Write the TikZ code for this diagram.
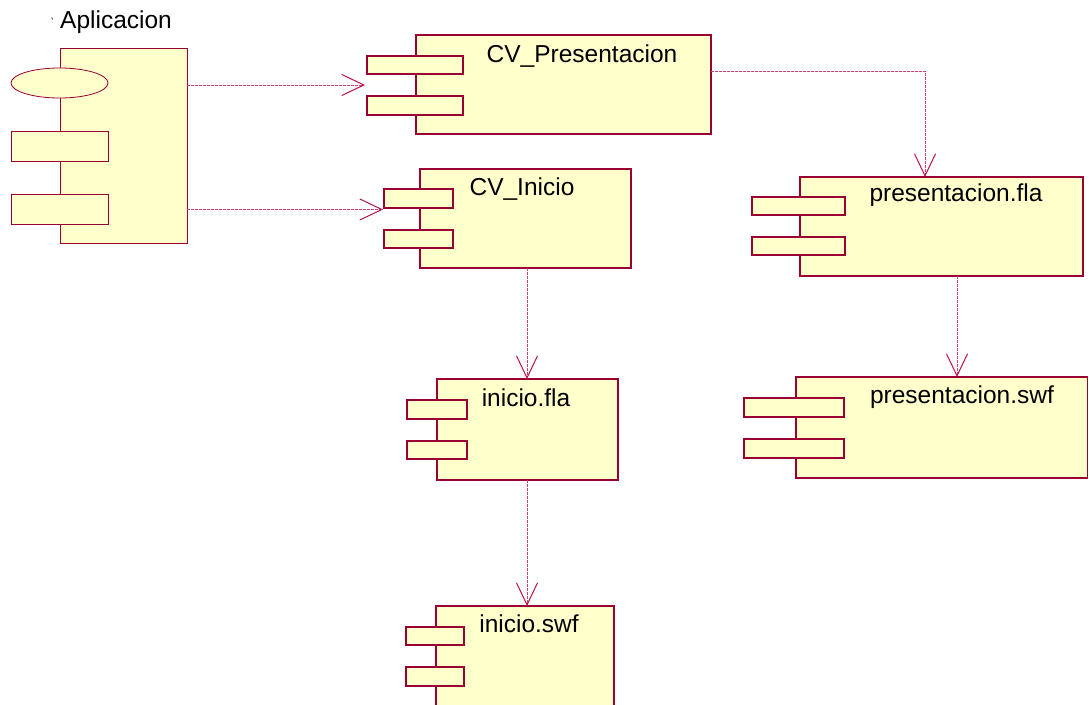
\documentclass[tikz,border=0pt]{standalone}
\usepackage{fontspec}
\newfontfamily\labelfont{Liberation Sans}
\usetikzlibrary{arrows.meta,shapes.geometric}

\definecolor{compedge}{RGB}{153,0,51}
\definecolor{compfill}{RGB}{255,255,204}
\definecolor{deplink}{RGB}{214,60,120}
\definecolor{deptip}{RGB}{185,20,70}

\tikzset{
  box/.style={draw=compedge, fill=compfill, line width=1.8pt, inner sep=0pt,
              outer sep=0pt, anchor=north west},
  thinbox/.style={box, line width=0.9pt},
  lbl/.style={font=\labelfont\fontsize{24.5}{28}\selectfont, text=black,
              inner sep=0pt, anchor=base},
  dep/.style={draw=deplink, line width=0.9pt, dash pattern=on 3pt off 1pt,
              -{Straight Barb[length=22pt, width=21pt, line width=1pt, color=deptip]}},
}

\begin{document}
\begin{tikzpicture}[x=1pt, y=-1pt]
\useasboundingbox (0,0) rectangle (1089,704);
\clip (0,0) rectangle (1089,704);
\fill[white] (0,0) rectangle (1089,704);

% ---- Aplicacion (package) ----
\node[thinbox, minimum width=127, minimum height=195] (apl) at (60,48) {};
\node[draw=compedge, fill=compfill, line width=0.8pt, ellipse, inner sep=0pt,
      minimum width=97, minimum height=30] (apl-e) at (59.5,83) {};
\node[thinbox, minimum width=97, minimum height=30] (apl-t1) at (11,131) {};
\node[thinbox, minimum width=97, minimum height=30] (apl-t2) at (11,194) {};
\node[lbl, anchor=base west] (apl-l) at (60,28) {Aplicacion};
\draw[compedge, line width=0.8pt] (51.6,17.6) -- (52.6,19.4);

% ---- CV_Presentacion ----
\node[box, minimum width=295, minimum height=99] (cvp) at (416,35) {};
\node[box, minimum width=96, minimum height=18] (cvp-t1) at (367,56) {};
\node[box, minimum width=96, minimum height=19] (cvp-t2) at (367,96) {};
\node[lbl] (cvp-l) at (582,62) {CV\_Presentacion};

% ---- CV_Inicio ----
\node[box, minimum width=211, minimum height=99] (cvi) at (420,169) {};
\node[box, minimum width=69, minimum height=19] (cvi-t1) at (384,189) {};
\node[box, minimum width=69, minimum height=18] (cvi-t2) at (384,230) {};
\node[lbl] (cvi-l) at (522,195) {CV\_Inicio};

% ---- inicio.fla ----
\node[box, minimum width=181, minimum height=101] (ifla) at (437,379) {};
\node[box, minimum width=60, minimum height=19] (ifla-t1) at (407,400) {};
\node[box, minimum width=60, minimum height=18] (ifla-t2) at (407,441) {};
\node[lbl] (ifla-l) at (526,406) {inicio.fla};

% ---- inicio.swf ----
\node[box, minimum width=178, minimum height=120] (iswf) at (436,606) {};
\node[box, minimum width=58, minimum height=18] (iswf-t1) at (406,627) {};
\node[box, minimum width=58, minimum height=19] (iswf-t2) at (406,667) {};
\node[lbl] (iswf-l) at (529,632) {inicio.swf};

% ---- presentacion.fla ----
\node[box, minimum width=283, minimum height=99] (pfla) at (800,177) {};
\node[box, minimum width=93, minimum height=18] (pfla-t1) at (752,197) {};
\node[box, minimum width=93, minimum height=18] (pfla-t2) at (752,237) {};
\node[lbl] (pfla-l) at (956,201) {presentacion.fla};

% ---- presentacion.swf ----
\node[box, minimum width=291.5, minimum height=101] (pswf) at (796,377) {};
\node[box, minimum width=100, minimum height=19] (pswf-t1) at (744,398) {};
\node[box, minimum width=100, minimum height=19] (pswf-t2) at (744,439) {};
\node[lbl] (pswf-l) at (962,403) {presentacion.swf};

% ---- dependency lanes ----
\coordinate (lane-a) at (0,85);
\coordinate (lane-b) at (0,209.5);
\coordinate (bend-p) at (925,71);
\coordinate (lane-i) at (527,0);
\coordinate (lane-p) at (957,0);

% ---- dependencies ----
\draw[dep] (apl.east |- lane-a) -- ([xshift=-2pt]cvp-t1.west |- lane-a);
\draw[dep] (apl.east |- lane-b) -- ([xshift=-1pt]cvi-t1.west |- lane-b);
\draw[dep] (cvp.east |- bend-p) -- (bend-p) -- (pfla.north -| bend-p);
\draw[dep] (cvi.south -| lane-i) -- (ifla.north -| lane-i);
\draw[dep] (ifla.south -| lane-i) -- (iswf.north -| lane-i);
\draw[dep] (pfla.south -| lane-p) -- (pswf.north -| lane-p);
\end{tikzpicture}
\end{document}
